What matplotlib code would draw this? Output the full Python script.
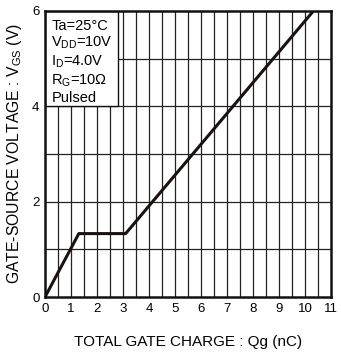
import matplotlib
matplotlib.use("Agg")
import matplotlib.pyplot as plt
from matplotlib.patches import Rectangle

plt.rcParams['font.family'] = ['Liberation Sans', 'DejaVu Sans']
plt.rcParams['mathtext.fontset'] = 'custom'
plt.rcParams['mathtext.rm'] = 'Liberation Sans'

qg = [0, 1.3, 3.1, 10.32]
vgs = [0, 1.33, 1.33, 6.0]
xticks = list(range(0, 12))
yticks = [0, 2, 4, 6]
conds = [r"Ta=25°C", r"V$_{\mathregular{DD}}$=10V", r"I$_{\mathregular{D}}$=4.0V",
         r"R$_{\mathregular{G}}$=10Ω", "Pulsed"]

fig = plt.figure(figsize=(3.41, 3.54), dpi=100)
ax = fig.add_axes([0.132, 0.161, 0.839, 0.808])
ax.set_xlim(0, 11)
ax.set_ylim(0, 6)

for x in [i * 0.5 for i in range(1, 22)]:
    ax.axvline(x, color='#222222', lw=0.9, zorder=1)
for y in range(1, 6):
    ax.axhline(y, color='#222222', lw=0.9, zorder=1)

ax.add_patch(Rectangle((0, 4), 2.8, 2, facecolor='white', edgecolor='#111111', lw=1.0, zorder=2))
ax.text(0.24, 5.84, "\n".join(conds), fontsize=10.5, va='top', ha='left', linespacing=1.17, zorder=3)

ax.plot(qg, vgs, color='#1a1210', lw=2.2, zorder=4, solid_capstyle='butt')

ax.set_xticks(xticks)
ax.set_yticks(yticks)
ax.tick_params(length=0, labelsize=9.5, pad=4)
for s in ax.spines.values():
    s.set_linewidth(1.8)
    s.set_color('#111111')
    s.set_zorder(5)

ax.set_xlabel("TOTAL GATE CHARGE : Qg (nC)", fontsize=11, labelpad=15)
ax.set_ylabel(r"GATE-SOURCE VOLTAGE : V$_{\mathregular{GS}}$ (V)", fontsize=11.3, labelpad=6)

fig.savefig("out.png", dpi=100)
